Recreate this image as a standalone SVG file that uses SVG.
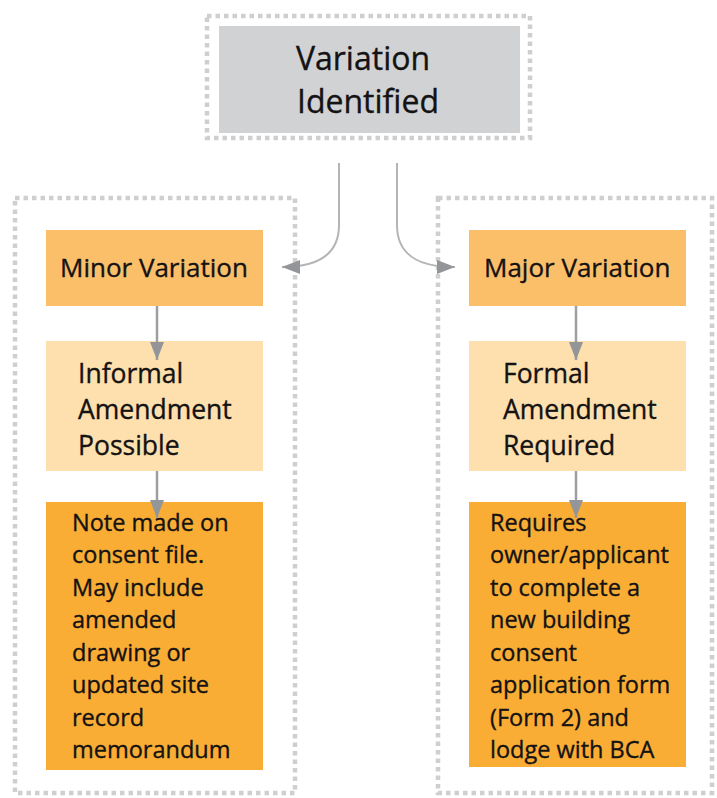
<svg xmlns="http://www.w3.org/2000/svg" width="717" height="798" viewBox="0 0 717 798">
<defs>
<style>
.dots{fill:none;stroke:#cfcfcf;stroke-width:4.5;stroke-dasharray:4.5 4;}
.t{font-family:"Open Sans","Noto Sans",sans-serif;fill:#141213;stroke:#141213;stroke-width:0.35;}
.lbl{font-size:26px;}
.mid{font-size:26.5px;}
.body{font-size:23.5px;}
.top{font-size:32px;}
.conn{fill:none;stroke:#9c9ea1;stroke-width:2.5;}
.curve{fill:none;stroke:#b4b5b7;stroke-width:2;}
</style>
<marker id="ah" markerUnits="userSpaceOnUse" markerWidth="18" markerHeight="14" refX="18" refY="7" orient="auto">
<path d="M0,0 L18,7 L0,14 Z" fill="#939598"/>
</marker>
</defs>
<rect width="717" height="798" fill="#ffffff"/>

<g id="panels">
<rect class="dots" x="207" y="16" width="323" height="122"/>
<rect class="dots" x="15" y="198" width="280" height="595"/>
<rect class="dots" x="438" y="198" width="274" height="595"/>
</g>

<g id="variation-identified">
<rect x="219" y="26" width="301" height="107" fill="#d1d2d4"/>
<text class="t top" x="363" y="70" text-anchor="middle">Variation</text>
<text class="t top" x="368" y="113" text-anchor="middle">Identified</text>
</g>

<g id="minor-variation">
<rect x="46" y="230" width="217" height="76" fill="#fbbf6a"/>
<text class="t lbl" x="60" y="277">Minor Variation</text>
</g>

<g id="informal-amendment">
<rect x="46" y="341" width="217" height="130" fill="#fde0ad"/>
<text class="t mid" x="78" y="383">Informal</text>
<text class="t mid" x="78" y="419">Amendment</text>
<text class="t mid" x="78" y="455">Possible</text>
</g>

<g id="note-made">
<rect x="46" y="502" width="217" height="268" fill="#f9ad35"/>
<text class="t body" x="72" y="531">Note made on</text>
<text class="t body" x="72" y="563">consent file.</text>
<text class="t body" x="72" y="596">May include</text>
<text class="t body" x="72" y="628">amended</text>
<text class="t body" x="72" y="661">drawing or</text>
<text class="t body" x="72" y="693">updated site</text>
<text class="t body" x="72" y="726">record</text>
<text class="t body" x="72" y="758">memorandum</text>
</g>

<g id="major-variation">
<rect x="469" y="230" width="217" height="76" fill="#fbbf6a"/>
<text class="t lbl" x="484" y="277">Major Variation</text>
</g>

<g id="formal-amendment">
<rect x="469" y="341" width="217" height="130" fill="#fde0ad"/>
<text class="t mid" x="503" y="383">Formal</text>
<text class="t mid" x="503" y="419">Amendment</text>
<text class="t mid" x="503" y="455">Required</text>
</g>

<g id="requires-owner">
<rect x="469" y="502" width="217" height="265" fill="#f9ad35"/>
<text class="t body" x="490" y="531">Requires</text>
<text class="t body" x="490" y="563">owner/applicant</text>
<text class="t body" x="490" y="596">to complete a</text>
<text class="t body" x="490" y="628">new building</text>
<text class="t body" x="490" y="661">consent</text>
<text class="t body" x="490" y="693">application form</text>
<text class="t body" x="490" y="726">(Form 2) and</text>
<text class="t body" x="490" y="758">lodge with BCA</text>
</g>

<g id="connectors">
<path class="curve" d="M339,163 V225 C339,255 318,267 282,267" marker-end="url(#ah)"/>
<path class="curve" d="M397,163 V225 C397,255 418,267 455,267" marker-end="url(#ah)"/>
<path class="conn" d="M157,306 V360" marker-end="url(#ah)"/>
<path class="conn" d="M157,471 V518" marker-end="url(#ah)"/>
<path class="conn" d="M576,306 V360" marker-end="url(#ah)"/>
<path class="conn" d="M576,471 V518" marker-end="url(#ah)"/>
</g>
</svg>
